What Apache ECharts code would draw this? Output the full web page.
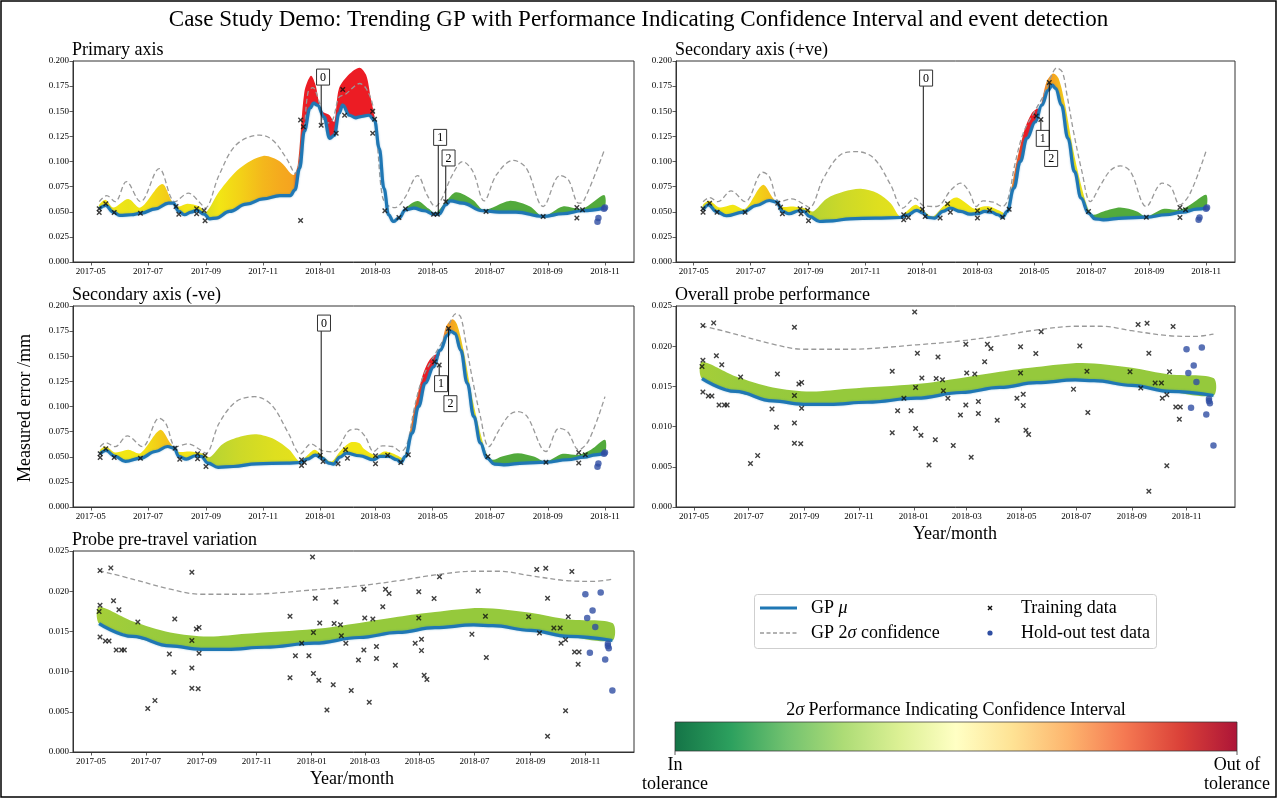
<!DOCTYPE html>
<html><head><meta charset="utf-8">
<script src="https://cdn.jsdelivr.net/npm/echarts@6/dist/echarts.min.js"></script>
<style>html,body{margin:0;padding:0;background:#fff}#c{width:1277px;height:798px}</style>
</head><body><div id="c"></div>
<script>
// ---------------- DATA ----------------
const X_TICKS = ['2017-05','2017-07','2017-09','2017-11','2018-01','2018-03','2018-05','2018-07','2018-09','2018-11'];
const X_RANGE_TOP = ['2017-04-12','2018-12-02'];
const X_RANGE_PERF = ['2017-04-11','2018-12-25'];

// Primary axis
const p1Mean = [['2017-05-10',0.0529],['2017-05-17',0.0562],['2017-05-25',0.0496],['2017-06-01',0.0463],['2017-06-13',0.047],['2017-06-24',0.0486],['2017-07-09',0.0529],['2017-07-23',0.0585],['2017-07-28',0.0585],['2017-08-03',0.0503],['2017-08-09',0.047],['2017-08-16',0.0496],['2017-08-22',0.0513],['2017-08-30',0.0476],['2017-09-05',0.043],['2017-09-12',0.0437],['2017-09-26',0.0503],['2017-10-14',0.0575],['2017-11-01',0.0628],['2017-11-19',0.0661],['2017-11-30',0.0661],['2017-12-05',0.0718],['2017-12-10',0.0933],['2017-12-15',0.130],['2017-12-21',0.153],['2017-12-25',0.158],['2017-12-29',0.156],['2018-01-05',0.1445],['2018-01-11',0.123],['2018-01-16',0.126],['2018-01-21',0.148],['2018-01-25',0.156],['2018-02-01',0.146],['2018-02-08',0.1435],['2018-02-12',0.1445],['2018-02-22',0.146],['2018-02-28',0.141],['2018-03-05',0.113],['2018-03-10',0.0734],['2018-03-15',0.047],['2018-03-20',0.0403],['2018-03-26',0.0437],['2018-04-02',0.0519],['2018-04-11',0.0536],['2018-04-22',0.051],['2018-05-02',0.0476],['2018-05-08',0.0476],['2018-05-15',0.0569],['2018-05-20',0.0608],['2018-06-02',0.0585],['2018-06-23',0.051],['2018-07-11',0.0496],['2018-07-29',0.0496],['2018-08-27',0.0453],['2018-09-17',0.048],['2018-10-08',0.051],['2018-10-31',0.0536]];
const p1Upper = [['2017-05-10',0.060],['2017-05-18',0.066],['2017-05-27',0.060],['2017-06-08',0.080],['2017-06-23',0.060],['2017-07-13',0.093],['2017-07-30',0.060],['2017-08-13',0.0685],['2017-08-26',0.0585],['2017-08-31',0.0536],['2017-09-15',0.0866],['2017-10-03',0.1164],['2017-10-28',0.1263],['2017-11-11',0.1214],['2017-11-26',0.103],['2017-12-05',0.0883],['2017-12-14',0.126],['2017-12-19',0.169],['2017-12-24',0.1736],['2017-12-31',0.159],['2018-01-07',0.138],['2018-01-14',0.141],['2018-01-21',0.164],['2018-01-28',0.167],['2018-02-08',0.176],['2018-02-12',0.1776],['2018-02-19',0.1726],['2018-02-26',0.156],['2018-03-03',0.1164],['2018-03-08',0.0668],['2018-03-13',0.0569],['2018-03-22',0.0542],['2018-04-01',0.0635],['2018-04-15',0.086],['2018-04-25',0.0668],['2018-05-04',0.0552],['2018-05-11',0.0635],['2018-05-22',0.0866],['2018-06-02',0.0999],['2018-06-13',0.09],['2018-06-25',0.0608],['2018-07-08',0.0866],['2018-07-26',0.1012],['2018-08-09',0.0933],['2018-08-27',0.0552],['2018-09-14',0.086],['2018-09-23',0.0817],['2018-10-04',0.0585],['2018-10-09',0.060],['2018-10-31',0.1104]];
const p1Fill = [['2017-05-10',0.0569],['2017-05-17',0.0618],['2017-05-25',0.0542],['2017-06-10',0.0628],['2017-06-23',0.0542],['2017-07-16',0.0777],['2017-07-27',0.060],['2017-08-03',0.0552],['2017-08-12',0.0579],['2017-08-25',0.0552],['2017-09-01',0.0496],['2017-09-15',0.0701],['2017-10-07',0.0933],['2017-11-01',0.1055],['2017-11-19',0.0999],['2017-12-03',0.0866],['2017-12-08',0.0966],['2017-12-15',0.169],['2017-12-22',0.1852],['2017-12-27',0.176],['2018-01-02',0.151],['2018-01-11',0.146],['2018-01-16',0.1395],['2018-01-21',0.1726],['2018-02-01',0.187],['2018-02-12',0.1934],['2018-02-19',0.186],['2018-02-24',0.163],['2018-02-28',0.1445],['2018-03-05',0.114],['2018-03-10',0.0738],['2018-03-15',0.0472],['2018-03-20',0.0405],['2018-03-26',0.044],['2018-04-02',0.0536],['2018-04-15',0.0608],['2018-04-27',0.0529],['2018-05-04',0.0486],['2018-05-15',0.060],['2018-05-26',0.0694],['2018-06-13',0.0618],['2018-06-25',0.0519],['2018-07-22',0.0608],['2018-08-13',0.0552],['2018-08-27',0.0453],['2018-09-17',0.0552],['2018-10-08',0.0529],['2018-10-31',0.0666]];
const p1Severity = [0.5,0.52,0.5,0.48,0.5,0.56,0.6,0.52,0.5,0.5,0.44,0.5,0.56,0.64,0.68,0.7,0.9,1,1,1,1,1,1,1,1,1,1,1,1,1,0.6,0.3,0.1,0,0,0,0,0,0,0,0,0,0,0,0,0,0,0];
const p1Train = [['2017-05-10',0.0529],['2017-05-10',0.0493],['2017-05-17',0.0579],['2017-05-26',0.0493],['2017-06-23',0.0486],['2017-07-31',0.0552],['2017-08-03',0.0476],['2017-08-22',0.0529],['2017-08-22',0.048],['2017-08-30',0.0513],['2017-08-31',0.041],['2017-12-11',0.1412],['2017-12-11',0.0413],['2017-12-14',0.1346],['2018-01-02',0.136],['2018-01-18',0.128],['2018-01-25',0.1716],['2018-01-27',0.146],['2018-02-26',0.150],['2018-02-28',0.142],['2018-02-26',0.128],['2018-03-11',0.051],['2018-03-26',0.0443],['2018-04-02',0.0529],['2018-05-02',0.0476],['2018-05-06',0.0476],['2018-05-15',0.060],['2018-06-27',0.0503],['2018-08-27',0.0453],['2018-10-02',0.0542],['2018-10-02',0.0437],['2018-10-08',0.0519]];
const p1Test = [['2018-10-24',0.040],['2018-10-25',0.0437],['2018-10-31',0.0529],['2018-11-01',0.0542]];
const p1Events = [['2018-01-02',0.136,'2018-01-04',0.184,'0'],['2018-05-07',0.0476,'2018-05-09',0.124,'1'],['2018-05-15',0.060,'2018-05-18',0.1035,'2']];

// Secondary axis (+ve)
const p2Mean = [['2017-05-11',0.0519],['2017-05-17',0.0569],['2017-05-25',0.0503],['2017-06-05',0.046],['2017-06-23',0.0496],['2017-07-07',0.0562],['2017-07-21',0.0612],['2017-07-29',0.0595],['2017-08-04',0.0503],['2017-08-11',0.048],['2017-08-22',0.051],['2017-08-27',0.0503],['2017-09-02',0.0453],['2017-09-13',0.0403],['2017-09-27',0.041],['2017-10-15',0.043],['2017-11-12',0.0437],['2017-12-08',0.0443],['2017-12-15',0.0463],['2017-12-26',0.0513],['2018-01-02',0.0486],['2018-01-07',0.0443],['2018-01-14',0.0437],['2018-01-23',0.0503],['2018-01-31',0.0536],['2018-02-11',0.0503],['2018-02-21',0.0476],['2018-03-01',0.048],['2018-03-09',0.0503],['2018-03-16',0.0496],['2018-03-23',0.047],['2018-03-28',0.0446],['2018-04-02',0.0503],['2018-04-09',0.0734],['2018-04-16',0.0999],['2018-04-23',0.123],['2018-05-02',0.1395],['2018-05-09',0.156],['2018-05-16',0.171],['2018-05-20',0.176],['2018-05-24',0.1726],['2018-05-30',0.156],['2018-06-06',0.123],['2018-06-13',0.09],['2018-06-20',0.0635],['2018-06-28',0.0486],['2018-07-05',0.043],['2018-07-14',0.042],['2018-08-04',0.0437],['2018-08-29',0.0446],['2018-09-19',0.047],['2018-10-07',0.0496],['2018-10-22',0.0526],['2018-11-01',0.0536]];
const p2Upper = [['2017-05-11',0.060],['2017-05-18',0.064],['2017-05-27',0.060],['2017-06-10',0.0708],['2017-06-25',0.060],['2017-07-14',0.0893],['2017-07-21',0.085],['2017-08-01',0.060],['2017-08-14',0.0628],['2017-08-28',0.0569],['2017-09-02',0.0542],['2017-09-17',0.0833],['2017-10-05',0.1065],['2017-10-23',0.1098],['2017-11-10',0.1032],['2017-11-28',0.0767],['2017-12-11',0.0536],['2017-12-24',0.0635],['2018-01-02',0.0562],['2018-01-16',0.0552],['2018-02-01',0.072],['2018-02-11',0.0784],['2018-02-20',0.0701],['2018-02-28',0.0552],['2018-03-07',0.0608],['2018-03-18',0.0595],['2018-03-28',0.0552],['2018-04-03',0.0635],['2018-04-10',0.0966],['2018-04-19',0.128],['2018-04-30',0.1478],['2018-05-11',0.166],['2018-05-18',0.1825],['2018-05-25',0.193],['2018-05-31',0.189],['2018-06-05',0.166],['2018-06-12',0.1296],['2018-06-21',0.09],['2018-06-30',0.060],['2018-07-11',0.0767],['2018-07-22',0.0916],['2018-08-01',0.0956],['2018-08-12',0.09],['2018-08-29',0.0552],['2018-09-15',0.0784],['2018-09-24',0.075],['2018-10-04',0.0569],['2018-10-15',0.0685],['2018-11-01',0.1104]];
const p2Fill = [['2017-05-11',0.0569],['2017-05-18',0.0608],['2017-05-29',0.0542],['2017-06-12',0.0569],['2017-06-25',0.0529],['2017-07-14',0.0767],['2017-07-25',0.0635],['2017-08-03',0.0552],['2017-08-16',0.0552],['2017-08-30',0.0529],['2017-09-06',0.0503],['2017-09-20',0.0628],['2017-10-09',0.0701],['2017-10-27',0.0728],['2017-11-14',0.0685],['2017-11-28',0.0585],['2017-12-08',0.0453],['2017-12-15',0.0503],['2017-12-25',0.0569],['2018-01-02',0.051],['2018-01-12',0.0453],['2018-01-23',0.0552],['2018-02-03',0.0635],['2018-02-08',0.064],['2018-02-17',0.0585],['2018-02-26',0.0529],['2018-03-07',0.0552],['2018-03-14',0.0552],['2018-03-25',0.051],['2018-03-31',0.0486],['2018-04-05',0.0668],['2018-04-12',0.0999],['2018-04-21',0.133],['2018-04-28',0.1478],['2018-05-04',0.1528],['2018-05-07',0.152],['2018-05-14',0.179],['2018-05-21',0.1875],['2018-05-27',0.1825],['2018-06-03',0.156],['2018-06-12',0.1098],['2018-06-21',0.0734],['2018-06-28',0.0519],['2018-07-03',0.047],['2018-07-14',0.0503],['2018-08-01',0.0542],['2018-08-19',0.0503],['2018-08-29',0.0453],['2018-09-17',0.0529],['2018-10-04',0.0519],['2018-10-15',0.0569],['2018-11-01',0.0668]];
const p2Severity = [0.5,0.52,0.5,0.5,0.5,0.58,0.62,0.52,0.5,0.5,0.36,0.38,0.41,0.43,0.45,0.46,0.5,0.5,0.5,0.5,0.5,0.5,0.5,0.5,0.5,0.5,0.5,0.5,0.5,0.55,0.72,0.88,1,1,1,0.95,0.74,0.7,0.64,0.56,0.5,0.5,0.3,0,0,0,0,0,0,0,0,0];
const p2Train = [['2017-05-11',0.0529],['2017-05-11',0.0496],['2017-05-18',0.0585],['2017-05-26',0.0496],['2017-06-25',0.0496],['2017-07-30',0.0585],['2017-08-02',0.0546],['2017-08-04',0.048],['2017-08-23',0.0529],['2017-08-24',0.048],['2017-08-31',0.0516],['2017-09-01',0.041],['2017-12-12',0.047],['2017-12-12',0.042],['2017-12-17',0.0443],['2018-01-01',0.0526],['2018-01-04',0.0453],['2018-01-20',0.0437],['2018-01-28',0.0579],['2018-01-31',0.0496],['2018-03-01',0.051],['2018-03-01',0.0437],['2018-03-14',0.0516],['2018-03-28',0.0446],['2018-04-04',0.0526],['2018-05-03',0.1452],['2018-05-08',0.1419],['2018-05-17',0.1786],['2018-06-28',0.0503],['2018-08-29',0.0446],['2018-10-04',0.0542],['2018-10-04',0.0443],['2018-10-10',0.0519]];
const p2Test = [['2018-10-24',0.042],['2018-10-25',0.0443],['2018-11-01',0.0529],['2018-11-02',0.0542]];
const p2Events = [['2018-01-02',0.0486,'2018-01-05',0.183,'0'],['2018-05-08',0.1419,'2018-05-10',0.123,'1'],['2018-05-17',0.1786,'2018-05-19',0.103,'2']];

// Secondary axis (-ve)
const p3Mean = [['2017-05-11',0.0529],['2017-05-17',0.0562],['2017-05-27',0.0503],['2017-06-07',0.0453],['2017-06-23',0.0486],['2017-07-09',0.0552],['2017-07-22',0.0602],['2017-07-29',0.0585],['2017-08-03',0.0503],['2017-08-11',0.0476],['2017-08-21',0.051],['2017-08-27',0.0503],['2017-09-03',0.0437],['2017-09-14',0.0394],['2017-09-30',0.0403],['2017-10-25',0.043],['2017-11-26',0.0437],['2017-12-11',0.0443],['2017-12-18',0.0476],['2017-12-27',0.0516],['2018-01-03',0.0486],['2018-01-10',0.0437],['2018-01-15',0.0427],['2018-01-22',0.0496],['2018-01-29',0.0536],['2018-02-12',0.051],['2018-02-27',0.047],['2018-03-06',0.0503],['2018-03-15',0.0503],['2018-03-24',0.047],['2018-03-28',0.0443],['2018-04-02',0.0503],['2018-04-09',0.0734],['2018-04-16',0.0999],['2018-04-23',0.123],['2018-05-02',0.1395],['2018-05-09',0.156],['2018-05-17',0.171],['2018-05-20',0.175],['2018-05-25',0.1726],['2018-05-31',0.156],['2018-06-07',0.123],['2018-06-14',0.09],['2018-06-21',0.0635],['2018-06-28',0.0486],['2018-07-06',0.0427],['2018-07-16',0.042],['2018-08-07',0.0437],['2018-08-30',0.0446],['2018-09-22',0.047],['2018-10-10',0.0496],['2018-10-22',0.0519],['2018-11-01',0.0536]];
const p3Upper = [['2017-05-11',0.060],['2017-05-17',0.064],['2017-05-27',0.060],['2017-06-09',0.0708],['2017-06-25',0.060],['2017-07-13',0.0883],['2017-07-20',0.0833],['2017-07-31',0.060],['2017-08-13',0.0628],['2017-08-27',0.0562],['2017-09-01',0.0536],['2017-09-15',0.0833],['2017-10-03',0.1048],['2017-10-23',0.1098],['2017-11-10',0.1015],['2017-11-28',0.0734],['2017-12-11',0.0529],['2017-12-22',0.0628],['2018-01-03',0.0562],['2018-01-15',0.0549],['2018-02-02',0.0767],['2018-02-09',0.0774],['2018-02-18',0.0701],['2018-02-27',0.0552],['2018-03-08',0.0608],['2018-03-19',0.0602],['2018-03-28',0.0552],['2018-04-04',0.0635],['2018-04-11',0.0966],['2018-04-20',0.128],['2018-05-01',0.1478],['2018-05-12',0.166],['2018-05-19',0.1825],['2018-05-26',0.1925],['2018-05-31',0.189],['2018-06-05',0.166],['2018-06-12',0.1296],['2018-06-21',0.09],['2018-06-30',0.060],['2018-07-11',0.0767],['2018-07-22',0.0916],['2018-07-31',0.0949],['2018-08-10',0.09],['2018-08-30',0.0552],['2018-09-13',0.0784],['2018-09-22',0.075],['2018-10-04',0.0569],['2018-10-15',0.0668],['2018-11-01',0.1098]];
const p3Fill = [['2017-05-11',0.0569],['2017-05-17',0.0602],['2017-05-27',0.0542],['2017-06-10',0.0569],['2017-06-23',0.0536],['2017-07-14',0.0767],['2017-07-25',0.0635],['2017-08-02',0.0552],['2017-08-15',0.0552],['2017-08-29',0.0529],['2017-09-05',0.0496],['2017-09-19',0.0628],['2017-10-08',0.0701],['2017-10-25',0.0724],['2017-11-13',0.0675],['2017-11-29',0.0569],['2017-12-10',0.0453],['2017-12-17',0.0503],['2017-12-26',0.0569],['2018-01-03',0.051],['2018-01-13',0.0453],['2018-01-22',0.0552],['2018-02-02',0.0642],['2018-02-12',0.0635],['2018-02-16',0.0585],['2018-02-25',0.0529],['2018-03-02',0.051],['2018-03-10',0.0552],['2018-03-17',0.0542],['2018-03-25',0.051],['2018-03-31',0.0486],['2018-04-05',0.0668],['2018-04-12',0.0999],['2018-04-21',0.133],['2018-04-28',0.1468],['2018-05-05',0.152],['2018-05-08',0.150],['2018-05-15',0.1786],['2018-05-22',0.1868],['2018-05-27',0.1819],['2018-06-03',0.156],['2018-06-12',0.1098],['2018-06-21',0.0734],['2018-06-28',0.0519],['2018-07-04',0.047],['2018-07-14',0.0503],['2018-07-31',0.0536],['2018-08-17',0.0503],['2018-08-30',0.0453],['2018-09-17',0.0529],['2018-10-04',0.0519],['2018-10-17',0.0569],['2018-11-01',0.0668]];
const p3Severity = [0.5,0.52,0.5,0.5,0.5,0.58,0.62,0.52,0.5,0.5,0.36,0.38,0.41,0.43,0.45,0.46,0.5,0.5,0.5,0.5,0.5,0.5,0.5,0.5,0.5,0.5,0.5,0.5,0.5,0.5,0.55,0.72,0.88,1,1,1,0.95,0.74,0.7,0.64,0.56,0.5,0.5,0.3,0,0,0,0,0,0,0,0,0];
const p3Train = [['2017-05-11',0.0529],['2017-05-11',0.0493],['2017-05-17',0.0579],['2017-05-26',0.0493],['2017-06-23',0.0486],['2017-07-30',0.0585],['2017-08-04',0.0476],['2017-08-23',0.0529],['2017-08-23',0.048],['2017-08-31',0.0513],['2017-09-01',0.0403],['2017-12-12',0.047],['2017-12-12',0.0413],['2017-12-15',0.0443],['2018-01-01',0.0516],['2018-01-04',0.0453],['2018-01-20',0.043],['2018-01-28',0.0569],['2018-01-30',0.0486],['2018-03-01',0.051],['2018-03-01',0.043],['2018-03-14',0.0516],['2018-03-28',0.0443],['2018-04-05',0.0519],['2018-05-03',0.1445],['2018-05-08',0.1412],['2018-05-18',0.1776],['2018-06-29',0.0503],['2018-08-30',0.0446],['2018-10-04',0.0542],['2018-10-04',0.0437],['2018-10-11',0.0519]];
const p3Test = [['2018-10-24',0.040],['2018-10-25',0.0433],['2018-10-31',0.0529],['2018-11-01',0.0542]];
const p3Events = [['2018-01-02',0.047,'2018-01-05',0.183,'0'],['2018-05-08',0.1412,'2018-05-10',0.1227,'1'],['2018-05-18',0.1776,'2018-05-20',0.1028,'2']];

// Overall probe performance / Probe pre-travel variation
const perfMean = [['2017-05-10',0.01597],['2017-06-16',0.01437],['2017-07-28',0.01319],['2017-08-31',0.01277],['2017-09-29',0.01277],['2017-11-10',0.01303],['2018-01-04',0.01353],['2018-02-23',0.01424],['2018-04-07',0.01487],['2018-05-18',0.01546],['2018-06-30',0.0158],['2018-07-21',0.01571],['2018-09-01',0.01513],['2018-10-13',0.01437],['2018-12-01',0.01387]];
const perfUpper = [['2017-05-10',0.02256],['2017-06-16',0.02151],['2017-07-28',0.02025],['2017-08-31',0.01962],['2017-10-20',0.01962],['2018-01-04',0.02017],['2018-02-23',0.02067],['2018-04-07',0.0213],['2018-05-18',0.02202],['2018-06-30',0.02248],['2018-07-29',0.02248],['2018-09-01',0.02193],['2018-10-13',0.0213],['2018-11-11',0.02122],['2018-12-01',0.02151]];
const perfFill = [['2017-05-10',0.01803],['2017-06-16',0.01626],['2017-07-28',0.01487],['2017-09-08',0.01437],['2017-10-20',0.01471],['2018-01-04',0.01529],['2018-02-23',0.01605],['2018-04-07',0.01681],['2018-05-18',0.0174],['2018-07-08',0.0179],['2018-09-01',0.01731],['2018-10-13',0.01647],['2018-12-01',0.01605]];
const perfSeverity = [0.32,0.3,0.28,0.27,0.27,0.27,0.27,0.27,0.27,0.27,0.27,0.27,0.27];
const perfTrain = [['2017-05-11',0.02256],['2017-05-23',0.0229],['2017-05-11',0.01824],['2017-05-10',0.01748],['2017-05-11',0.01429],['2017-05-17',0.01382],['2017-05-21',0.01382],['2017-05-26',0.01882],['2017-05-29',0.01269],['2017-06-01',0.01769],['2017-06-04',0.01269],['2017-06-07',0.01269],['2017-06-22',0.01618],['2017-07-03',0.00542],['2017-07-11',0.00639],['2017-07-27',0.01218],['2017-08-01',0.00992],['2017-08-02',0.01655],['2017-08-21',0.02235],['2017-08-21',0.01387],['2017-08-21',0.01046],['2017-08-21',0.00794],['2017-08-26',0.01529],['2017-08-28',0.00786],['2017-08-29',0.0155],['2017-08-29',0.01227],['2017-12-08',0.01689],['2017-12-08',0.00924],['2017-12-14',0.01197],['2017-12-21',0.01353],['2017-12-29',0.01197],['2018-01-02',0.02424],['2018-01-03',0.01487],['2018-01-05',0.01912],['2018-01-03',0.00975],['2018-01-10',0.01605],['2018-01-09',0.00891],['2018-01-18',0.00521],['2018-01-25',0.00836],['2018-01-26',0.01597],['2018-01-28',0.01866],['2018-02-02',0.01584],['2018-02-03',0.01445],['2018-02-08',0.01353],['2018-02-14',0.00765],['2018-02-22',0.01143],['2018-02-28',0.02025],['2018-02-28',0.01269],['2018-03-01',0.01668],['2018-03-06',0.00618],['2018-03-10',0.01655],['2018-03-14',0.01164],['2018-03-14',0.01311],['2018-03-21',0.01807],['2018-03-24',0.02025],['2018-03-28',0.01971],['2018-04-04',0.0108],['2018-04-26',0.01353],['2018-04-30',0.01992],['2018-04-30',0.01668],['2018-05-03',0.01403],['2018-05-03',0.01261],['2018-05-06',0.00954],['2018-05-09',0.00903],['2018-05-17',0.01908],['2018-05-23',0.02181],['2018-06-28',0.01466],['2018-07-05',0.02004],['2018-07-13',0.01689],['2018-07-14',0.01176],['2018-08-30',0.01681],['2018-09-08',0.02269],['2018-09-11',0.01479],['2018-09-18',0.02286],['2018-09-20',0.00197],['2018-09-20',0.01912],['2018-09-27',0.01542],['2018-10-04',0.01542],['2018-10-05',0.01353],['2018-10-10',0.01395],['2018-10-10',0.00513],['2018-10-13',0.01681],['2018-10-17',0.02244],['2018-10-20',0.01244],['2018-10-25',0.01244],['2018-10-24',0.01092]];
const perfTest = [['2018-11-01',0.01962],['2018-11-03',0.01668],['2018-11-06',0.01235],['2018-11-09',0.0176],['2018-11-12',0.01555],['2018-11-18',0.01983],['2018-11-23',0.01151],['2018-11-26',0.01345],['2018-11-26',0.01319],['2018-11-27',0.0129],['2018-12-01',0.00765]];

const panelTitles = ['Primary axis','Secondary axis (+ve)','Secondary axis (-ve)','Overall probe performance','Probe pre-travel variation'];

// ---------------- STYLE / LAYOUT ----------------
const FONT = '"Liberation Serif", "DejaVu Serif", serif';
const grids = [
  {left:73, top:61, width:561, height:201},
  {left:676, top:61, width:559, height:201},
  {left:73, top:306, width:561, height:201},
  {left:676, top:306, width:559, height:201},
  {left:73, top:551, width:561, height:201}
];
const SEV_STOPS = [[0,'#52aa3c'],[0.3,'#9ccc3c'],[0.4,'#c9d82a'],[0.5,'#f2e614'],[0.7,'#f5a31f'],[0.85,'#f06a1e'],[1,'#ec1c24']];
const CBAR_STOPS = ['#006837','#1a9850','#66bd63','#a6d96a','#d9ef8b','#ffffbf','#fee08b','#fdae61','#f46d43','#d73027','#a50026'];
const X_PATH = 'path://M0,1.8L1.8,0L5,3.2L8.2,0L10,1.8L6.8,5L10,8.2L8.2,10L5,6.8L1.8,10L0,8.2L3.2,5Z';
const LBL = 18;

function ts(s){const p=s.split('-').map(Number);return new Date(p[0],p[1]-1,p[2]||1).getTime();}
const toPts = arr => arr.map(p => [ts(p[0]), p[1]]);
function hex2rgb(h){return [parseInt(h.slice(1,3),16),parseInt(h.slice(3,5),16),parseInt(h.slice(5,7),16)];}
function sevColor(s){
  for(let i=1;i<SEV_STOPS.length;i++){
    if(s<=SEV_STOPS[i][0]){
      const a=SEV_STOPS[i-1], b=SEV_STOPS[i];
      const t=(s-a[0])/(b[0]-a[0]); const ca=hex2rgb(a[1]), cb=hex2rgb(b[1]);
      return 'rgb('+ca.map((v,k)=>Math.round(v+(cb[k]-v)*t)).join(',')+')';
    }
  }
  return SEV_STOPS[SEV_STOPS.length-1][1];
}
function fmtMonth(v){const d=new Date(v);return d.getFullYear()+'-'+String(d.getMonth()+1).padStart(2,'0');}

function bandSeries(i, mean, fill, sev){
  return {type:'custom', xAxisIndex:i, yAxisIndex:i, z:1, silent:true, clip:false,
    data: toPts(fill), encode:{x:0, y:1},
    renderItem(params, api){
      if(params.dataIndex!==0) return null;
      const lower = mean.map(p=>api.coord([ts(p[0]),p[1]]));
      const upper = fill.map(p=>api.coord([ts(p[0]),p[1]]));
      const pts = lower.concat(upper.slice().reverse());
      const x0 = upper[0][0], x1 = upper[upper.length-1][0];
      const stops = upper.map((u,k)=>({offset:Math.min(1,Math.max(0,(u[0]-x0)/(x1-x0))), color:sevColor(sev[k])}));
      return {type:'polygon', shape:{points:pts, smooth:0.3},
        style:{fill:new echarts.graphic.LinearGradient(x0,0,x1,0,stops,true), stroke:null}};
    }};
}
function eventSeries(i, events){
  return {type:'custom', xAxisIndex:i, yAxisIndex:i, z:6, silent:true, clip:false,
    data: events.map(e=>[ts(e[0]),e[1],ts(e[2]),e[3]]), encode:{x:[0,2], y:[1,3]},
    renderItem(params, api){
      const a = api.coord([api.value(0), api.value(1)]);
      const b = api.coord([api.value(2), api.value(3)]);
      const label = events[params.dataIndex][4];
      return {type:'group', children:[
        {type:'line', shape:{x1:a[0], y1:a[1], x2:a[0], y2:b[1]}, style:{stroke:'#111', lineWidth:1}},
        {type:'rect', shape:{x:b[0]-6.5, y:b[1]-8, width:13, height:16}, style:{fill:'#fff', stroke:'#333', lineWidth:1}},
        {type:'text', x:b[0], y:b[1]+0.5, style:{text:label, fill:'#000', font:'12px '+FONT, align:'center', verticalAlign:'middle'}}
      ]};
    }};
}
function panelSeries(i, d){
  const s = [bandSeries(i, d.mean, d.fill, d.sev),
    {type:'line', xAxisIndex:i, yAxisIndex:i, data:toPts(d.upper), smooth:0.35, showSymbol:false, symbol:'none', silent:true, z:2,
      lineStyle:{color:'#999999', width:1.3, type:[5,3]}},
    {type:'line', xAxisIndex:i, yAxisIndex:i, data:toPts(d.mean), smooth:0.4, smoothMonotone:'x', showSymbol:false, symbol:'none', silent:true, z:3,
      lineStyle:{color:'#1f77b4', width:3.2, shadowBlur:2, shadowColor:'rgba(31,119,180,0.45)'}},
    {type:'scatter', xAxisIndex:i, yAxisIndex:i, data:toPts(d.train), symbol:X_PATH, symbolSize:5.5, silent:true, z:4, itemStyle:{color:'#111'}},
    {type:'scatter', xAxisIndex:i, yAxisIndex:i, data:toPts(d.test), symbol:'circle', symbolSize:6.5, silent:true, z:4, itemStyle:{color:'#2f4ea2'}}];
  if(d.events) s.push(eventSeries(i, d.events));
  return s;
}

const panels = [
  {mean:p1Mean, upper:p1Upper, fill:p1Fill, sev:p1Severity, train:p1Train, test:p1Test, events:p1Events},
  {mean:p2Mean, upper:p2Upper, fill:p2Fill, sev:p2Severity, train:p2Train, test:p2Test, events:p2Events},
  {mean:p3Mean, upper:p3Upper, fill:p3Fill, sev:p3Severity, train:p3Train, test:p3Test, events:p3Events},
  {mean:perfMean, upper:perfUpper, fill:perfFill, sev:perfSeverity, train:perfTrain, test:perfTest},
  {mean:perfMean, upper:perfUpper, fill:perfFill, sev:perfSeverity, train:perfTrain, test:perfTest}
];

const tickTs = X_TICKS.map(ts);
const axisTextStyle = {color:'#000', fontFamily:FONT, fontSize:9};
const rich = {a:{fontFamily:FONT, fontSize:LBL, color:'#000'}, b:{fontFamily:FONT, fontSize:LBL, fontStyle:'italic', color:'#000'}};

const option = {
  animation:false,
  backgroundColor:'#fff',
  title: [{text:'Case Study Demo: Trending GP with Performance Indicating Confidence Interval and event detection', left:'center', top:8, padding:0,
      textStyle:{fontFamily:FONT, fontWeight:'normal', fontSize:23, color:'#000'}}]
    .concat(panelTitles.map((t,i)=>({text:t, left:grids[i].left-1, top:grids[i].top-20, padding:0,
      textStyle:{fontFamily:FONT, fontWeight:'normal', fontSize:LBL, color:'#000'}}))),
  grid: grids.map(g=>Object.assign({show:true, borderColor:'#333', borderWidth:1, backgroundColor:'transparent', containLabel:false, outerBoundsMode:'none'}, g)),
  xAxis: grids.map((g,i)=>({type:'value', gridIndex:i, scale:true,
    min: ts(i<3 ? X_RANGE_TOP[0] : X_RANGE_PERF[0]), max: ts(i<3 ? X_RANGE_TOP[1] : X_RANGE_PERF[1]),
    axisLine:{show:true, onZero:false, lineStyle:{color:'#333', width:1}},
    axisTick:{show:true, inside:false, length:3.5, lineStyle:{color:'#333', width:0.8}, customValues:tickTs},
    axisLabel:Object.assign({customValues:tickTs, formatter:fmtMonth, margin:5, hideOverlap:false, showMinLabel:true, showMaxLabel:true}, axisTextStyle),
    splitLine:{show:false}, minorTick:{show:false}})),
  yAxis: grids.map((g,i)=>({type:'value', gridIndex:i, min:0, max:i<3?0.2:0.025, interval:i<3?0.025:0.005,
    axisLine:{show:true, lineStyle:{color:'#333', width:1}},
    axisTick:{show:true, inside:false, length:3.5, lineStyle:{color:'#333', width:0.8}},
    axisLabel:Object.assign({formatter:v=>v.toFixed(3), margin:4}, axisTextStyle),
    splitLine:{show:false}})),
  series: [].concat(...panels.map((d,i)=>panelSeries(i,d))),
  graphic: [
    {type:'rect', shape:{x:1, y:1, width:1275, height:796}, style:{fill:'none', stroke:'#000', lineWidth:1.5}, silent:true},
    {type:'text', x:25, y:408, rotation:Math.PI/2, style:{text:'Measured error /mm', font:LBL+'px '+FONT, fill:'#000', align:'center', verticalAlign:'middle'}},
    {type:'text', x:955, y:534, style:{text:'Year/month', font:LBL+'px '+FONT, fill:'#000', align:'center', verticalAlign:'middle'}},
    {type:'text', x:352, y:779, style:{text:'Year/month', font:LBL+'px '+FONT, fill:'#000', align:'center', verticalAlign:'middle'}},
    // legend
    {type:'rect', shape:{x:754.5, y:594.5, width:402, height:54, r:3}, style:{fill:'#fff', stroke:'#cfcfcf', lineWidth:1}},
    {type:'line', shape:{x1:760, y1:608, x2:797, y2:608}, style:{stroke:'#1f77b4', lineWidth:3}},
    {type:'line', shape:{x1:760, y1:633, x2:797, y2:633}, style:{stroke:'#999999', lineWidth:1.3, lineDash:[4,2.5]}},
    {type:'text', x:811, y:608, style:{text:'{a|GP }{b|μ}', rich:rich, verticalAlign:'middle'}},
    {type:'text', x:811, y:633, style:{text:'{a|GP 2}{b|σ}{a| confidence}', rich:rich, verticalAlign:'middle'}},
    {type:'line', shape:{x1:988, y1:606, x2:992, y2:610}, style:{stroke:'#111', lineWidth:1.4}},
    {type:'line', shape:{x1:992, y1:606, x2:988, y2:610}, style:{stroke:'#111', lineWidth:1.4}},
    {type:'circle', shape:{cx:990, cy:633, r:2.6}, style:{fill:'#2f4ea2'}},
    {type:'text', x:1021, y:608, style:{text:'Training data', font:LBL+'px '+FONT, fill:'#000', verticalAlign:'middle'}},
    {type:'text', x:1021, y:633, style:{text:'Hold-out test data', font:LBL+'px '+FONT, fill:'#000', verticalAlign:'middle'}},
    // colorbar
    {type:'text', x:956, y:710, style:{text:'{a|2}{b|σ}{a| Performance Indicating Confidence Interval}', rich:rich, align:'center', verticalAlign:'middle'}},
    {type:'rect', shape:{x:675, y:722, width:562, height:29}, style:{stroke:'#333', lineWidth:0.8, opacity:0.92,
      fill:new echarts.graphic.LinearGradient(0,0,1,0, CBAR_STOPS.map((c,k)=>({offset:k/(CBAR_STOPS.length-1), color:c})))}},
    {type:'line', shape:{x1:675, y1:751, x2:675, y2:755}, style:{stroke:'#333', lineWidth:0.8}},
    {type:'line', shape:{x1:1237, y1:751, x2:1237, y2:755}, style:{stroke:'#333', lineWidth:0.8}},
    {type:'text', x:675, y:756, style:{text:'In\ntolerance', font:LBL+'px '+FONT, fill:'#000', align:'center', verticalAlign:'top', lineHeight:19}},
    {type:'text', x:1237, y:756, style:{text:'Out of\ntolerance', font:LBL+'px '+FONT, fill:'#000', align:'center', verticalAlign:'top', lineHeight:19}}
  ]
};
const chart = echarts.init(document.getElementById('c'), null, {renderer:'canvas'});
chart.setOption(option);
</script></body></html>
